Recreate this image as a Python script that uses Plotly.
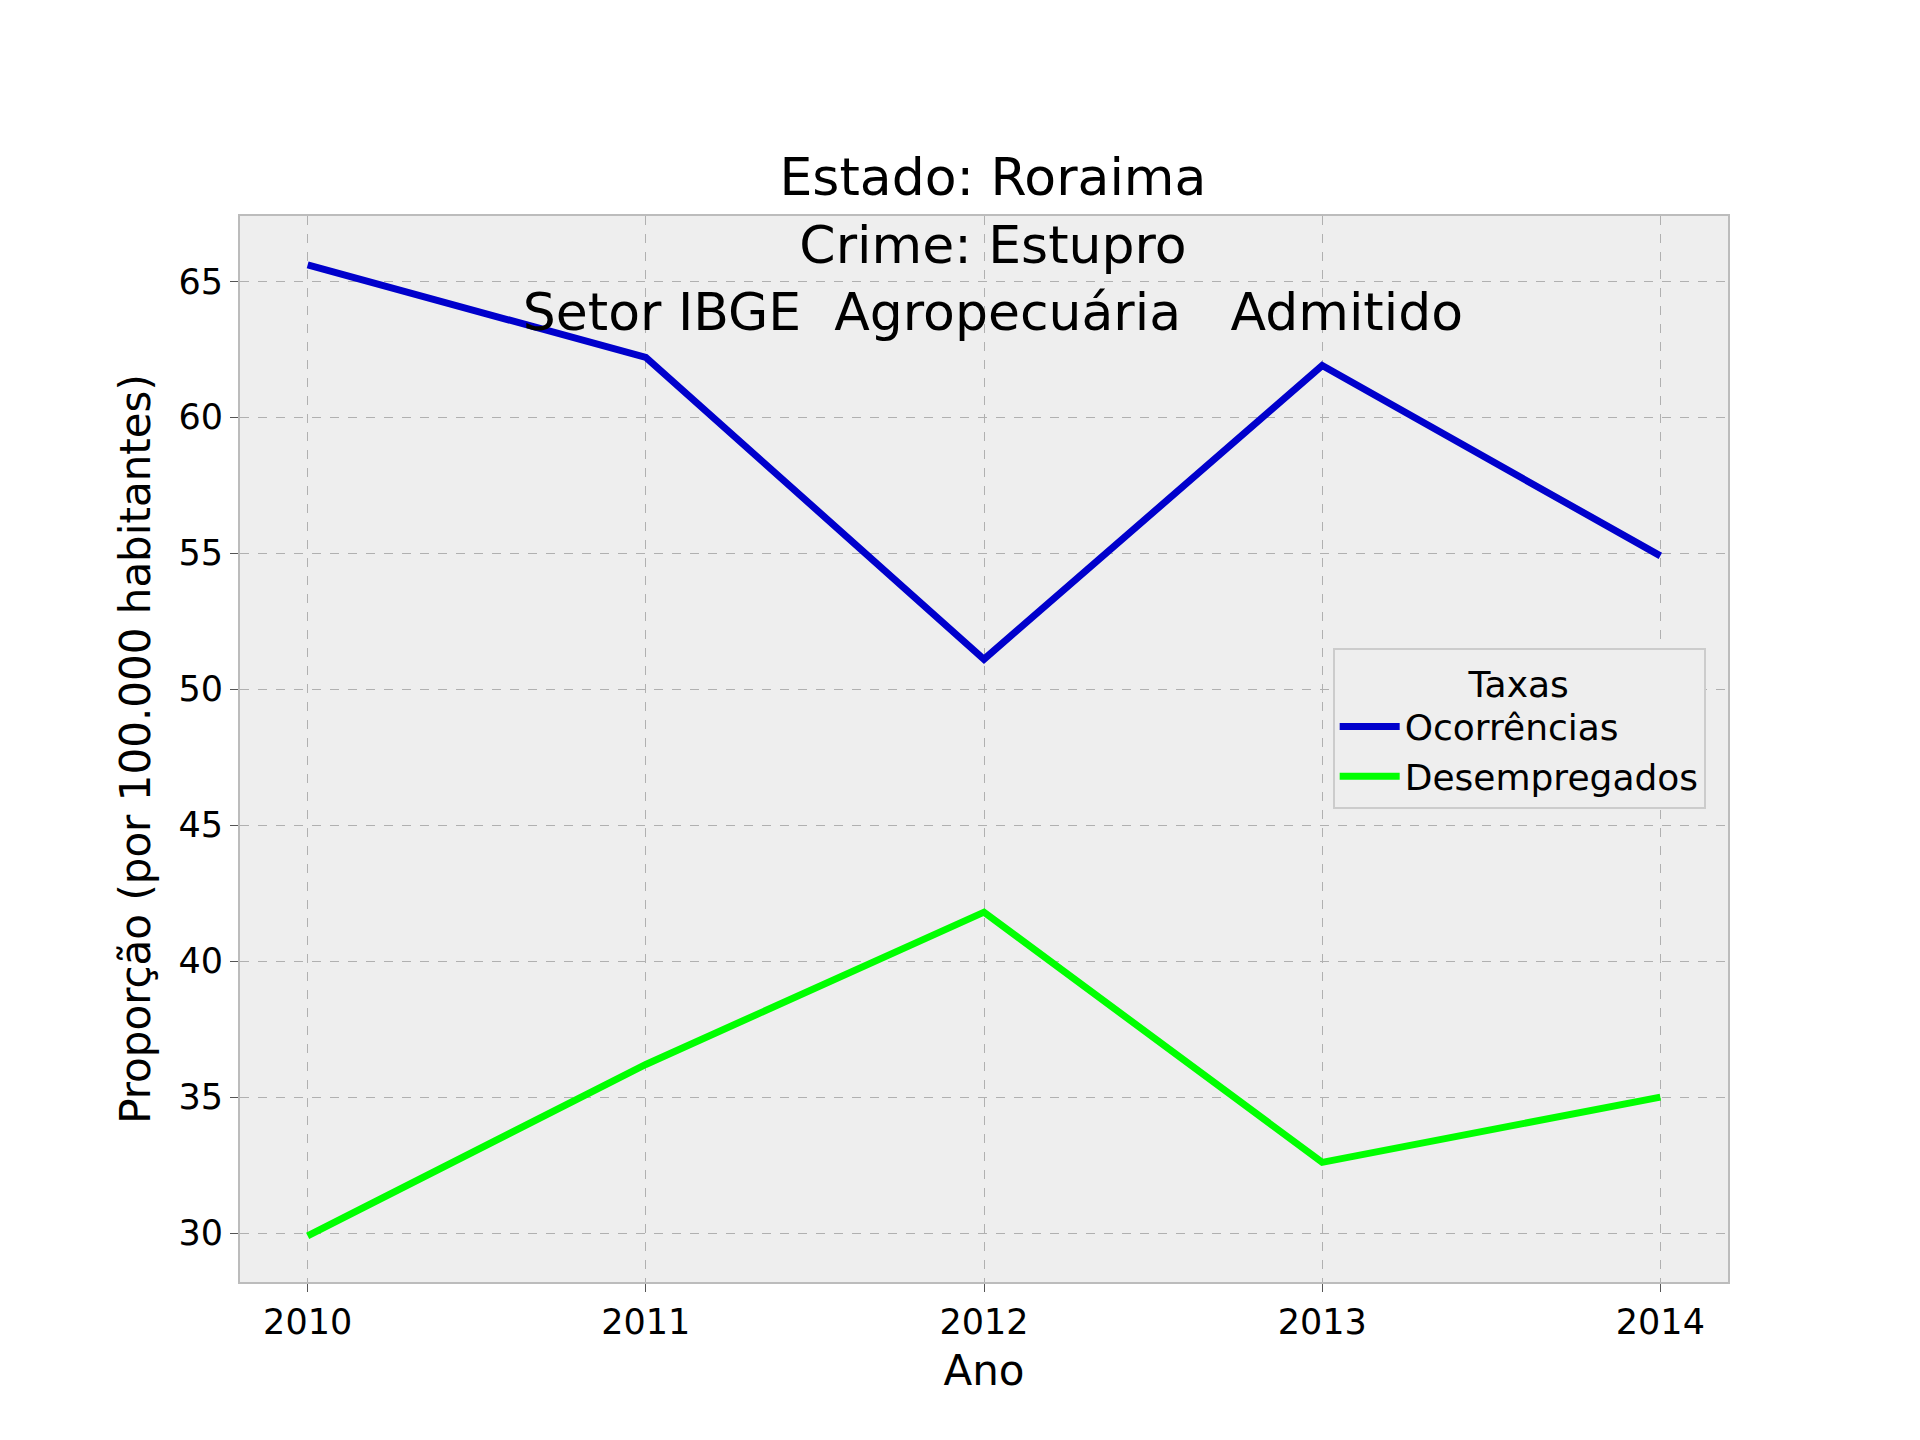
import plotly.graph_objects as go

anos = [2010, 2011, 2012, 2013, 2014]
ocorrencias = [65.6, 62.2, 51.1, 61.9, 54.9]
desempregados = [29.9, 36.2, 41.8, 32.6, 35.0]

fig = go.Figure()
fig.add_trace(go.Scatter(x=anos, y=ocorrencias, mode="lines", name="Ocorrências",
                         line=dict(color="#0000cc", width=7)))
fig.add_trace(go.Scatter(x=anos, y=desempregados, mode="lines", name="Desempregados",
                         line=dict(color="#00ff00", width=7)))

axis_common = dict(showgrid=True, gridcolor="#b0b0b0", griddash="dash", gridwidth=1,
                   showline=True, linecolor="#bcbcbc", linewidth=2, mirror=True,
                   ticks="outside", ticklen=8, tickcolor="#555", zeroline=False,
                   tickfont=dict(size=35, color="black"))

fig.update_layout(
    width=1920, height=1440,
    paper_bgcolor="white", plot_bgcolor="#eeeeee",
    font=dict(family="DejaVu Sans", color="black"),
    title=dict(text="Estado: Roraima<br>Crime: Estupro<br>Setor IBGE  Agropecuária   Admitido",
               x=0.513, xanchor="center", yref="container", y=0.87, yanchor="bottom",
               font=dict(size=52)),
    margin=dict(l=232, r=200, t=208, b=166),
    xaxis=dict(axis_common, range=[2009.8, 2014.2], tickvals=anos,
               title=dict(text="Ano", font=dict(size=42))),
    yaxis=dict(axis_common, range=[28.2, 67.4], tickvals=[30, 35, 40, 45, 50, 55, 60, 65],
               title=dict(text="Proporção (por 100.000 habitantes)", font=dict(size=42))),
    legend=dict(title=dict(text="Taxas", side="top center", font=dict(size=36)),
                x=0.985, y=0.595, xanchor="right", yanchor="top",
                bgcolor="#eeeeee", bordercolor="#cccccc", borderwidth=2,
                itemwidth=60, font=dict(size=36)),
)

fig.write_html("out.html")
